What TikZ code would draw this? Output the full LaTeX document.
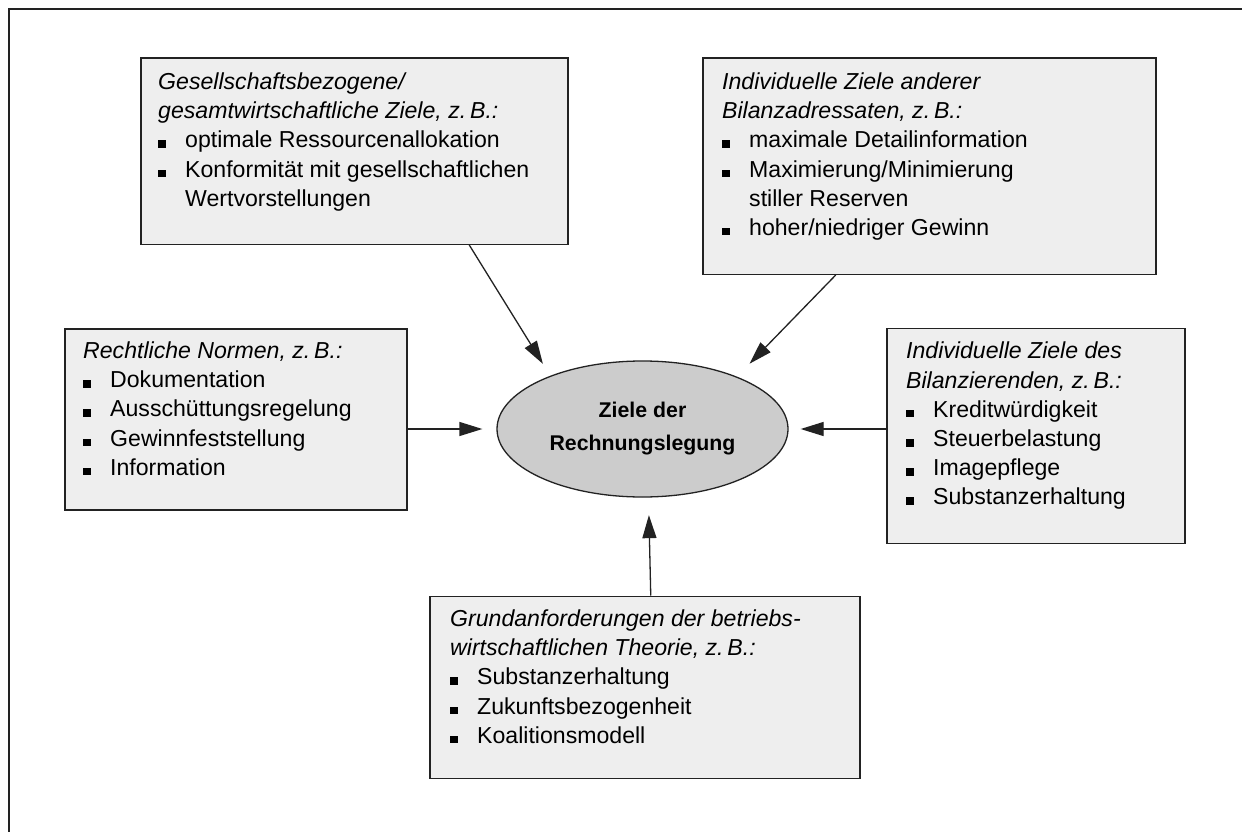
\documentclass[tikz,border=0pt]{standalone}
\usepackage{fontspec}
\setmainfont{Liberation Sans}
\usetikzlibrary{shapes.geometric,arrows.meta,calc}
\definecolor{boxfill}{HTML}{EEEEEE}
\definecolor{ellfill}{HTML}{CCCCCC}
\definecolor{edgecol}{HTML}{222222}
\newcommand{\bul}{\makebox[27pt][l]{\rule{7.5pt}{7.5pt}}}
\newcommand{\ind}{\hspace*{27pt}}
\begin{document}
\begin{tikzpicture}[x=1pt,y=-1pt,
  box/.style={draw=edgecol, line width=1.5pt, fill=boxfill, anchor=north west, inner sep=0pt},
  txt/.style={anchor=north west, inner sep=0pt, align=left, font=\fontsize{23.1}{29.2}\selectfont},
  ell/.style={ellipse, draw=edgecol, line width=1.3pt, fill=ellfill, inner sep=0pt,
    minimum width=291pt, minimum height=136pt, align=center,
    font=\fontsize{21.3}{33}\selectfont\bfseries},
  arr/.style={draw=edgecol, line width=1.3pt, -{Triangle[length=23pt,width=14pt]}}]
\useasboundingbox (0,0) rectangle (1242,832);
\fill[white] (0,0) rectangle (1242,832);
\draw[line width=2pt, edgecol] (9,832) -- (9,9) -- (1242,9);

% boxes
\node[box, minimum width=427pt, minimum height=186pt] (A) at (140,57.5) {};
\node[box, minimum width=453pt, minimum height=216pt] (B) at (702,57.5) {};
\node[box, minimum width=342pt, minimum height=181pt] (L) at (64,328) {};
\node[box, minimum width=298pt, minimum height=215pt] (R) at (886,327.5) {};
\node[box, minimum width=430pt, minimum height=182pt] (D) at (429,595.5) {};

% texts
\node[txt] (At) at ($(A.north west)+(18,15)$) {\textit{Gesellschaftsbezogene/}\\
  \textit{gesamtwirtschaftliche Ziele, z.\,B.:}\\
  \bul optimale Ressourcenallokation\\
  \bul Konformität mit gesellschaftlichen\\
  \ind Wertvorstellungen};
\node[txt] (Bt) at ($(B.north west)+(20,15)$) {\textit{Individuelle Ziele anderer}\\
  \textit{Bilanzadressaten, z.\,B.:}\\
  \bul maximale Detailinformation\\
  \bul Maximierung/Minimierung\\
  \ind stiller Reserven\\
  \bul hoher/niedriger Gewinn};
\node[txt] (Lt) at ($(L.north west)+(19,13.5)$) {\textit{Rechtliche Normen, z.\,B.:}\\
  \bul Dokumentation\\
  \bul Ausschüttungsregelung\\
  \bul Gewinnfeststellung\\
  \bul Information};
\node[txt] (Rt) at ($(R.north west)+(20,14.5)$) {\textit{Individuelle Ziele des}\\
  \textit{Bilanzierenden, z.\,B.:}\\
  \bul Kreditwürdigkeit\\
  \bul Steuerbelastung\\
  \bul Imagepflege\\
  \bul Substanzerhaltung};
\node[txt] (Dt) at ($(D.north west)+(21,14)$) {\textit{Grundanforderungen der betriebs-}\\
  \textit{wirtschaftlichen Theorie, z.\,B.:}\\
  \bul Substanzerhaltung\\
  \bul Zukunftsbezogenheit\\
  \bul Koalitionsmodell};

% centre
\node[ell] (E) at (642.5,429) {Ziele der\\Rechnungslegung};

% connectors
\draw[arr, shorten >=14pt] ([xshift=115pt]A.south) -- (E.150);
\draw[arr, shorten >=18pt] ([xshift=-93.5pt]B.south) -- (E.29);
\draw[arr, shorten >=14pt] (L.east |- E.west) -- (E.west);
\draw[arr, shorten >=12pt] (R.west |- E.east) -- (E.east);
\draw[arr, shorten >=17.5pt] ([xshift=6pt]D.north) -- ([xshift=6pt]E.south);
\end{tikzpicture}
\end{document}
